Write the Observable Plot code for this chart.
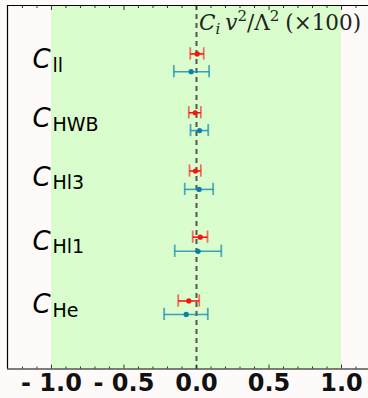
<!DOCTYPE html>
<html>
<head>
<meta charset="utf-8">
<script src="https://cdn.jsdelivr.net/npm/d3@7"></script>
<script src="https://cdn.jsdelivr.net/npm/@observablehq/plot@0.6"></script>
<style>
  html, body { margin: 0; padding: 0; background: #fffafa; }
</style>
</head>
<body>
<div id="chart"></div>
<script>
// Coefficient names (subscripts of C)
const coefficients = ["ll", "HWB", "Hl3", "Hl1", "He"];

// Red series (central value, lower, upper, vertical row position)
const redCenter = [0.005, -0.009, -0.007, 0.026, -0.053];
const redLow    = [-0.043, -0.053, -0.048, -0.026, -0.126];
const redHigh   = [0.050, 0.030, 0.030, 0.076, 0.019];
const redRow    = [5.14, 4.18, 3.23, 2.15, 1.11];

// Blue series
const blueCenter = [-0.037, 0.021, 0.018, 0.011, -0.071];
const blueLow    = [-0.156, -0.041, -0.081, -0.150, -0.223];
const blueHigh   = [0.087, 0.081, 0.115, 0.171, 0.078];
const blueRow    = [4.85, 3.89, 2.93, 1.92, 0.89];

// Axis setup
const xDomain = [-1.303, 1.186];
const yDomain = [0, 5.93];
const majorTicks = [-1.0, -0.5, 0.0, 0.5, 1.0];
const minorTicks = [-1.2, -1.1, -0.9, -0.8, -0.7, -0.6, -0.4, -0.3, -0.2, -0.1,
                    0.1, 0.2, 0.3, 0.4, 0.6, 0.7, 0.8, 0.9, 1.1];
const band = [{lo: -1, hi: 1}];

const red = coefficients.map((c, i) => ({c, x: redCenter[i], lo: redLow[i], hi: redHigh[i], y: redRow[i]}));
const blue = coefficients.map((c, i) => ({c, x: blueCenter[i], lo: blueLow[i], hi: blueHigh[i], y: blueRow[i]}));
const labels = coefficients.map((c, i) => ({c, y: (redRow[i] + blueRow[i]) / 2}));

const RED = "#ff1010";
const BLUE = "#1388b4";
const cap = 0.1;

const fmt = d => d < 0 ? "- " + Math.abs(d).toFixed(1) : d.toFixed(1);

const plot = Plot.plot({
  width: 368,
  height: 398,
  marginLeft: 7,
  marginRight: 0,
  marginTop: 5,
  marginBottom: 29.5,
  style: {background: "#fffafa", fontFamily: "DejaVu Sans"},
  x: {domain: xDomain},
  y: {domain: yDomain},
  marks: [
    Plot.rect(band, {x1: "lo", x2: "hi", fill: "#d9fdcc"}),
    Plot.ruleX([0], {stroke: "#555", strokeWidth: 2, strokeDasharray: "5,4"}),
    // frame lines
    Plot.ruleX([xDomain[0]], {stroke: "#000", strokeWidth: 1.2}),
    Plot.ruleY(yDomain, {stroke: "#000", strokeWidth: 1.2}),
    // ticks
    Plot.axisX({anchor: "bottom", ticks: minorTicks, tickSize: -2, text: null, stroke: "#333", label: null}),
    Plot.axisX({anchor: "top", ticks: minorTicks, tickSize: -2, text: null, stroke: "#333", label: null}),
    Plot.axisX({anchor: "top", ticks: majorTicks, tickSize: -4, text: null, stroke: "#333", label: null}),
    Plot.axisX({anchor: "bottom", ticks: majorTicks, tickSize: -4, tickPadding: 9, tickFormat: fmt,
      fontSize: 24, fontWeight: "bold", fill: "#111", stroke: "#333", label: null}),
    Plot.axisY({ticks: [], label: null}),
    // red error bars
    Plot.link(red, {x1: "lo", x2: "hi", y1: "y", y2: "y", stroke: RED, strokeWidth: 1.6}),
    Plot.ruleX(red, {x: "lo", y1: d => d.y - cap, y2: d => d.y + cap, stroke: RED, strokeOpacity: 0.6, strokeWidth: 1.8}),
    Plot.ruleX(red, {x: "hi", y1: d => d.y - cap, y2: d => d.y + cap, stroke: RED, strokeOpacity: 0.6, strokeWidth: 1.8}),
    Plot.dot(red, {x: "x", y: "y", r: 2.6, fill: RED}),
    // blue error bars
    Plot.link(blue, {x1: "lo", x2: "hi", y1: "y", y2: "y", stroke: BLUE, strokeOpacity: 0.8, strokeWidth: 1.6}),
    Plot.ruleX(blue, {x: "lo", y1: d => d.y - cap, y2: d => d.y + cap, stroke: BLUE, strokeOpacity: 0.7, strokeWidth: 1.8}),
    Plot.ruleX(blue, {x: "hi", y1: d => d.y - cap, y2: d => d.y + cap, stroke: BLUE, strokeOpacity: 0.7, strokeWidth: 1.8}),
    Plot.dot(blue, {x: "x", y: "y", r: 2.6, fill: "#0a7fa8"}),
    // row labels
    Plot.text(labels, {y: "y", frameAnchor: "left", dx: 25, dy: -3, text: () => "C", fontSize: 26,
      fontStyle: "italic", textAnchor: "start", fill: "#000", fontFamily: "DejaVu Sans"}),
    Plot.text(labels, {y: "y", frameAnchor: "left", dx: 45, dy: 3, text: "c", fontSize: 19,
      textAnchor: "start", fill: "#000", fontFamily: "DejaVu Sans"})
  ]
});

// axis title with sub/superscripts
const svg = d3.select(plot);
const x0 = plot.scale("x").apply(0);
const t = svg.append("text")
  .attr("x", x0 + 3)
  .attr("y", 30)
  .attr("text-anchor", "start")
  .attr("font-family", "DejaVu Serif")
  .attr("font-size", 21.5)
  .attr("fill", "#222");
t.append("tspan").attr("font-style", "italic").text("C");
t.append("tspan").attr("font-style", "italic").attr("font-size", 15).attr("dy", 4).text("i");
t.append("tspan").attr("font-style", "italic").attr("dy", -4).attr("dx", 5).text("v");
t.append("tspan").attr("font-size", 15).attr("dy", -9).text("2");
t.append("tspan").attr("dy", 9).text("/Λ");
t.append("tspan").attr("font-size", 15).attr("dy", -9).text("2");
t.append("tspan").attr("dy", 9).attr("dx", 6).text("(×100)");

document.getElementById("chart").appendChild(plot);
</script>
</body>
</html>
